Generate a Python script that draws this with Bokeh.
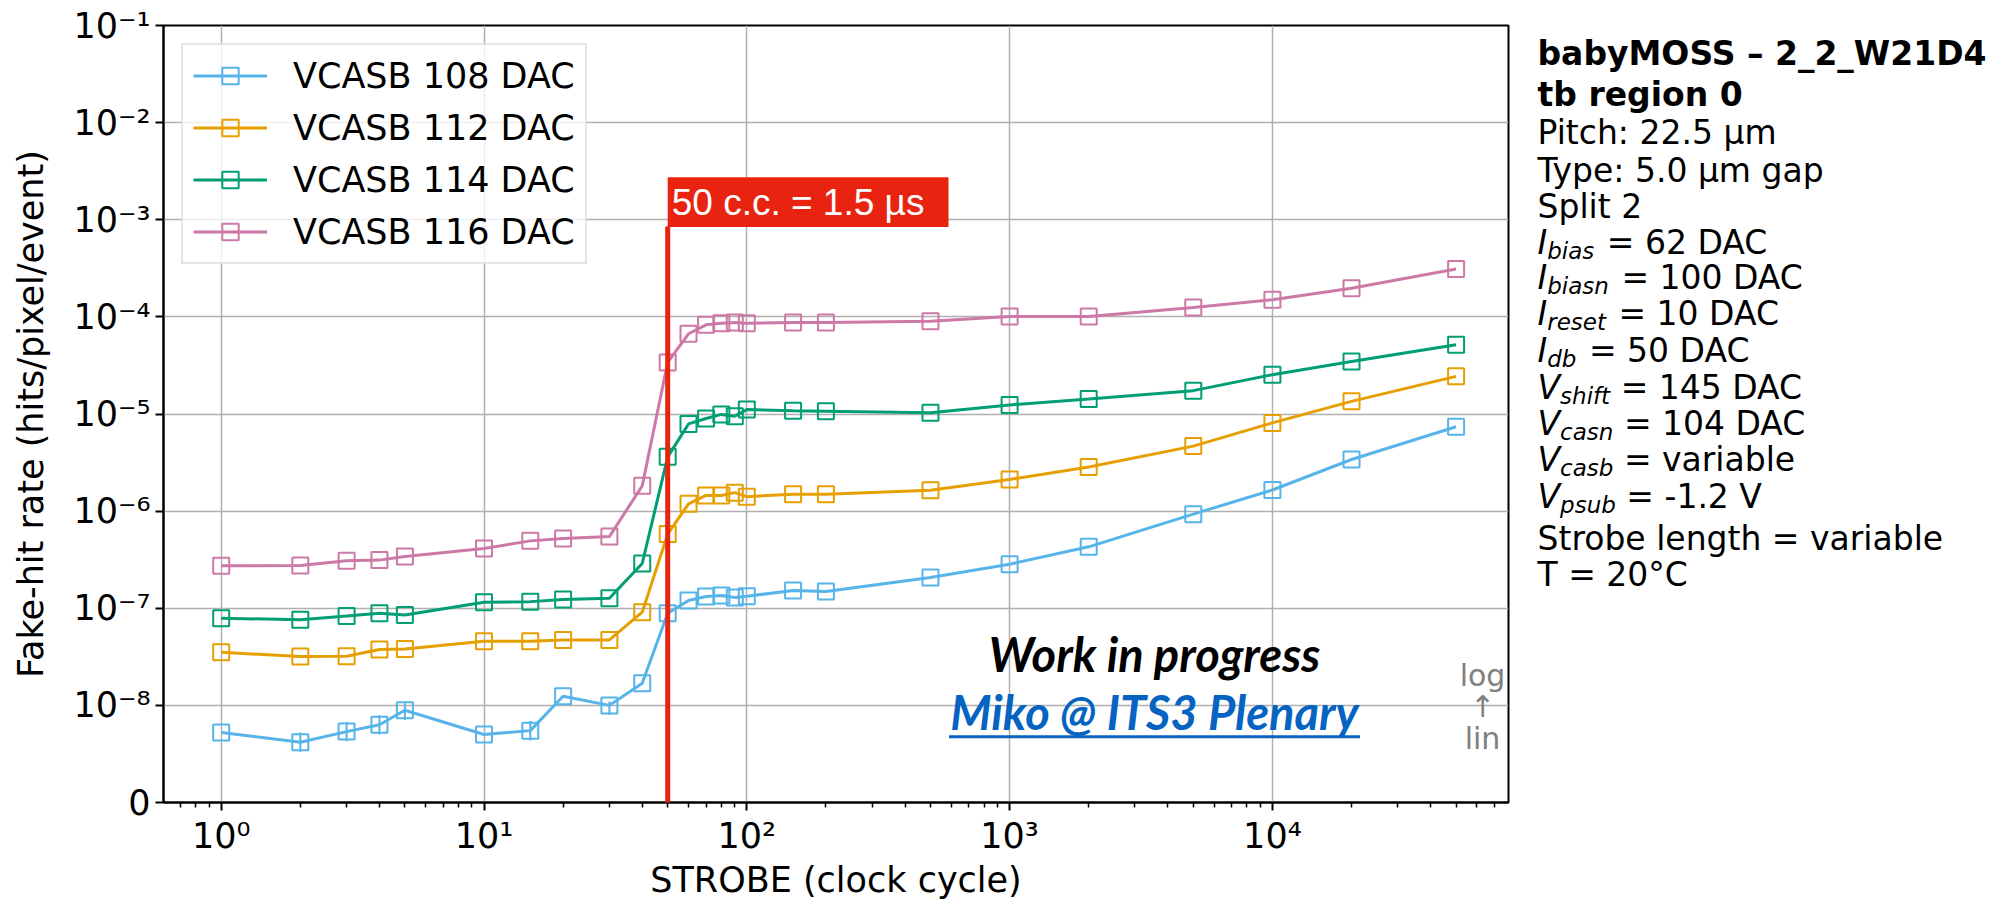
import math
from bokeh.plotting import figure
from bokeh.layouts import row
from bokeh.models import (Range1d, FixedTicker, Label, BoxAnnotation, Legend,
                          LegendItem, ColumnDataSource, CustomJSTickFormatter)
from bokeh.embed import file_html
from bokeh.resources import INLINE

# ------------------------------------------------------------------ data
strobe = [1, 2, 3, 4, 5, 10, 15, 20, 30, 40, 50, 60, 70, 80, 90, 100,
          150, 200, 500, 1000, 2000, 5000, 10000, 20000, 50000]

series_labels = ["VCASB 108 DAC", "VCASB 112 DAC", "VCASB 114 DAC", "VCASB 116 DAC"]
series_colors = ["#56B4E9", "#E69F00", "#009E73", "#CC79A7"]

rate_108 = [7.2e-9, 6.2e-9, 7.3e-9, 8.0e-9, 9.5e-9, 7.0e-9, 7.4e-9, 1.24e-8, 1.0e-8, 1.69e-8,
            8.9e-8, 1.20e-7, 1.32e-7, 1.35e-7, 1.29e-7, 1.33e-7, 1.52e-7, 1.49e-7, 2.07e-7,
            2.84e-7, 4.29e-7, 9.3e-7, 1.65e-6, 3.4e-6, 7.4e-6]
err_108 = [0, 1.0e-9, 1.0e-9, 1.0e-9, 1.0e-9, 0, 1.0e-9, 0, 1.0e-9, 0,
           0, 0, 0, 0, 0, 0, 0, 0, 0, 0, 0, 0, 0, 0, 0]
rate_112 = [3.52e-8, 3.18e-8, 3.21e-8, 3.76e-8, 3.81e-8, 4.57e-8, 4.57e-8, 4.72e-8, 4.72e-8, 9.1e-8,
            5.8e-7, 1.19e-6, 1.45e-6, 1.45e-6, 1.55e-6, 1.41e-6, 1.49e-6, 1.49e-6, 1.64e-6,
            2.12e-6, 2.85e-6, 4.67e-6, 8.1e-6, 1.35e-5, 2.44e-5]
rate_114 = [7.9e-8, 7.6e-8, 8.3e-8, 8.9e-8, 8.5e-8, 1.15e-7, 1.17e-7, 1.23e-7, 1.27e-7, 2.89e-7,
            3.62e-6, 7.9e-6, 9.0e-6, 9.9e-6, 9.5e-6, 1.11e-5, 1.08e-5, 1.07e-5, 1.03e-5,
            1.24e-5, 1.43e-5, 1.74e-5, 2.54e-5, 3.48e-5, 5.16e-5]
rate_116 = [2.74e-7, 2.75e-7, 3.08e-7, 3.13e-7, 3.41e-7, 4.12e-7, 4.94e-7, 5.22e-7, 5.47e-7, 1.82e-6,
            3.40e-5, 6.70e-5, 8.28e-5, 8.61e-5, 8.75e-5, 8.6e-5, 8.75e-5, 8.75e-5, 9.0e-5,
            1.01e-4, 1.01e-4, 1.25e-4, 1.50e-4, 1.97e-4, 3.11e-4]

x_tick_values = [1, 10, 100, 1000, 10000]
x_tick_labels = ["10⁰", "10¹", "10²", "10³", "10⁴"]
y_tick_values = [0, 1e-8, 1e-7, 1e-6, 1e-5, 1e-4, 1e-3, 1e-2, 1e-1]
y_tick_labels = ["0", "10⁻⁸", "10⁻⁷", "10⁻⁶", "10⁻⁵", "10⁻⁴", "10⁻³", "10⁻²", "10⁻¹"]

x_label = "STROBE (clock cycle)"
y_label = "Fake-hit rate (hits/pixel/event)"

strobe_marker = 50
strobe_marker_text = "50 c.c. = 1.5 µs"

info_bold = ["babyMOSS – 2_2_W21D4", "tb region 0"]
info_plain_top = ["Pitch: 22.5 µm", "Type: 5.0 µm gap", "Split 2"]
info_sub = [("I", "bias", "= 62 DAC"), ("I", "biasn", "= 100 DAC"), ("I", "reset", "= 10 DAC"),
            ("I", "db", "= 50 DAC"), ("V", "shift", "= 145 DAC"), ("V", "casn", "= 104 DAC"),
            ("V", "casb", "= variable"), ("V", "psub", "= -1.2 V")]
info_plain_bottom = ["Strobe length = variable", "T = 20°C"]

wip_text = "Work in progress"
link_text = "Miko @ ITS3 Plenary"
scale_note = ["log", "↑", "lin"]

# ------------------------------------------------------------------ scale (symlog)
LINTHRESH = 1e-8


def symlog(v):
    if v < LINTHRESH:
        return v / LINTHRESH
    return 1.0 + math.log10(v / LINTHRESH)


YT_MAX = symlog(1e-1)

# ------------------------------------------------------------------ layout (page px)
FRAME_L, FRAME_T, FRAME_W, FRAME_H = 163, 25, 1345, 781
MAIN_W, PAGE_H = 1520, 902
SIDE_W = 476
XLOG0, XLOG1 = -0.2196, 4.8984
FRAME_B = FRAME_T + FRAME_H


def px_x(px):
    return 10 ** (XLOG0 + (px - FRAME_L) / FRAME_W * (XLOG1 - XLOG0))


def px_y(py):
    return (FRAME_B - py) / FRAME_H * YT_MAX


FONT = "DejaVu Sans"
p = figure(x_axis_type="log",
           x_range=Range1d(10 ** XLOG0, 10 ** XLOG1), y_range=Range1d(0, YT_MAX),
           width=MAIN_W, height=PAGE_H,
           min_border_left=FRAME_L, min_border_top=FRAME_T,
           min_border_right=MAIN_W - FRAME_L - FRAME_W,
           min_border_bottom=PAGE_H - FRAME_B,
           output_backend="svg", toolbar_location=None)
p.background_fill_color = "white"
p.border_fill_color = "white"
p.outline_line_color = "black"
p.outline_line_width = 2

# axes / ticks
xt = FixedTicker(ticks=x_tick_values,
                 minor_ticks=[m * 10 ** k for k in range(-1, 5) for m in range(2, 10)])
yt = FixedTicker(ticks=[symlog(v) for v in y_tick_values], minor_ticks=[])
p.xaxis.ticker = xt
p.yaxis.ticker = yt
p.xgrid.ticker = xt
p.ygrid.ticker = yt
p.xaxis.formatter = CustomJSTickFormatter(args=dict(vals=x_tick_values, labs=x_tick_labels), code="""
    const i = vals.findIndex(v => Math.abs(Math.log10(v) - Math.log10(tick)) < 1e-6);
    return i >= 0 ? labs[i] : "";
""")
p.yaxis.formatter = CustomJSTickFormatter(
    args=dict(vals=[symlog(v) for v in y_tick_values], labs=y_tick_labels), code="""
    const i = vals.findIndex(v => Math.abs(v - tick) < 1e-6);
    return i >= 0 ? labs[i] : "";
""")
for ax in (p.xaxis, p.yaxis):
    ax.axis_line_width = 2
    ax.axis_line_color = "black"
    ax.major_tick_line_width = 2
    ax.major_tick_out = 8
    ax.major_tick_in = 0
    ax.minor_tick_line_width = 1.5
    ax.minor_tick_out = 5
    ax.minor_tick_in = 0
    ax.major_label_text_font = FONT
    ax.major_label_text_font_size = "35px"
    ax.major_label_text_color = "black"
    ax.major_label_standoff = 5
    ax.axis_label_text_font = FONT
    ax.axis_label_text_font_size = "35px"
    ax.axis_label_text_font_style = "normal"
    ax.axis_label_text_color = "black"
p.yaxis.axis_label = y_label
p.yaxis.axis_label_standoff = 19
p.xaxis.axis_label = x_label
p.xaxis.axis_label_standoff = 1

for g in (p.xgrid, p.ygrid):
    g.grid_line_color = "#b0b0b0"
    g.grid_line_width = 1.5

# ------------------------------------------------------------------ series
items = []
all_rates = [rate_108, rate_112, rate_114, rate_116]
for label, color, rates in zip(series_labels, series_colors, all_rates):
    src = ColumnDataSource(dict(x=strobe, y=[symlog(v) for v in rates]))
    if rates is rate_108:
        xs = [s for s, e in zip(strobe, err_108) if e > 0]
        y0 = [symlog(v - e) for v, e in zip(rates, err_108) if e > 0]
        y1 = [symlog(v + e) for v, e in zip(rates, err_108) if e > 0]
        p.segment(x0=xs, y0=y0, x1=xs, y1=y1, line_color=color, line_width=2)
    lr = p.line("x", "y", source=src, line_color=color, line_width=3)
    sr = p.scatter("x", "y", source=src, marker="square", size=16, fill_color=None,
                   line_color=color, line_width=2)
    items.append(LegendItem(label=label, renderers=[lr, sr]))

legend = Legend(items=items, location="top_left", margin=18, padding=10, spacing=11,
                glyph_width=74, glyph_height=41, label_height=41, label_standoff=26,
                label_text_font=FONT, label_text_font_size="35px", label_text_color="black",
                border_line_color="#cccccc", border_line_width=2,
                background_fill_color="white", background_fill_alpha=0.8)
p.add_layout(legend)

# ------------------------------------------------------------------ strobe marker
RED = "#E8230F"
p.segment(x0=[strobe_marker], y0=[0], x1=[strobe_marker], y1=[px_y(227)],
          line_color=RED, line_width=5, level="overlay")
p.add_layout(BoxAnnotation(left=strobe_marker, right=px_x(948), bottom=px_y(227.5),
                           top=px_y(177.5), fill_color=RED, fill_alpha=1.0, line_color=None))
p.add_layout(Label(x=strobe_marker, y=px_y(203), x_offset=4, text=strobe_marker_text,
                   text_font="Liberation Sans", text_font_size="37px", text_color="white",
                   text_baseline="middle", text_align="left"))

# ------------------------------------------------------------------ overlay texts
WIP_SIZE = 47
for txt, base, col in [(wip_text, 675, "black"), (link_text, 733, "#0563C1")]:
    p.add_layout(Label(x=px_x(1154), y=px_y(base - 0.387 * WIP_SIZE), text=txt, text_font="Lato",
                       text_font_style="bold italic", text_font_size=f"{WIP_SIZE}px",
                       text_color=col, text_align="center", text_baseline="middle"))
p.segment(x0=[px_x(948.5)], y0=[px_y(740)], x1=[px_x(1359.5)], y1=[px_y(740)],
          line_color="#0563C1", line_width=3)
for txt, base in zip(scale_note, [689, 720, 752]):
    p.add_layout(Label(x=px_x(1482), y=px_y(base - 0.35 * 30), text=txt, text_font=FONT,
                       text_font_size="30px", text_color="#808080",
                       text_align="center", text_baseline="middle"))

# ------------------------------------------------------------------ info panel (side figure)
# frames of a row are aligned, so the side frame spans page y FRAME_T..FRAME_B
side = figure(width=SIDE_W, height=PAGE_H, x_range=Range1d(0, SIDE_W),
              y_range=Range1d(FRAME_B, FRAME_T),
              min_border_left=0, min_border_right=0,
              min_border_top=FRAME_T, min_border_bottom=PAGE_H - FRAME_B,
              x_axis_location=None, y_axis_location=None,
              output_backend="svg", toolbar_location=None)
side.outline_line_color = None
side.grid.visible = False
side.background_fill_color = "white"
side.border_fill_color = "white"

INFO_X = 1537 - MAIN_W
baselines = [65, 106, 144, 182, 218, 255, 290, 326, 363, 400, 437, 473, 510, 552, 588]
MAIN = 33
SUB = 23
ADV = {"I": 0.295, "V": 0.684, "b": 0.635, "i": 0.278, "a": 0.613, "s": 0.521,
       "n": 0.634, "r": 0.411, "e": 0.615, "t": 0.392, "d": 0.635, "h": 0.634,
       "f": 0.352, "c": 0.550, "p": 0.635, "u": 0.634}


def adv(s, size):
    return sum(ADV[c] for c in s) * size


def put(txt, x, base, size, style="normal"):
    side.add_layout(Label(x=x, y=base - 0.35 * size, text=txt, text_font=FONT,
                          text_font_size=f"{size}px", text_font_style=style,
                          text_color="black", text_align="left", text_baseline="middle"))


r = 0
for t in info_bold:
    put(t, INFO_X, baselines[r], MAIN, "bold")
    r += 1
for t in info_plain_top:
    put(t, INFO_X, baselines[r], MAIN)
    r += 1
for main, sub, rest in info_sub:
    b = baselines[r]
    put(main, INFO_X, b, MAIN, "italic")
    xs_ = INFO_X + adv(main, MAIN)
    put(sub, xs_, b + 5, SUB, "italic")
    xr = xs_ + adv(sub, SUB) + 0.318 * MAIN + (2 if main == "I" else 0)
    put(rest, xr, b, MAIN)
    r += 1
for t in info_plain_bottom:
    put(t, INFO_X, baselines[r], MAIN)
    r += 1

layout = row(p, side, spacing=0)
open("out.html", "w").write(file_html(layout, INLINE))
